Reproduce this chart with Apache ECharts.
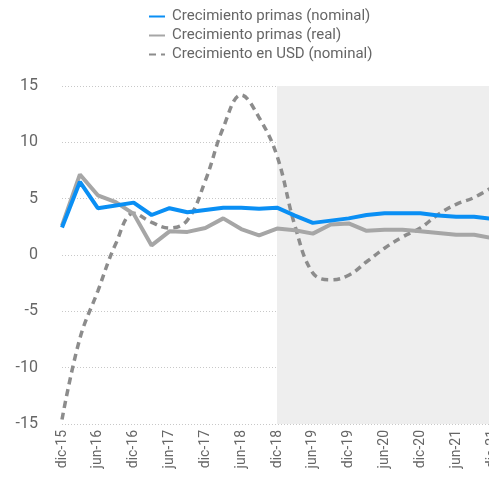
<!DOCTYPE html>
<html><head><meta charset="utf-8">
<script src="https://cdn.jsdelivr.net/npm/echarts@6/dist/echarts.min.js"></script>
<style>html,body{margin:0;padding:0;background:#fff}#c{width:489px;height:477px}</style>
</head><body><div id="c"></div>
<script>
const categories = ["dic-15","mar-16","jun-16","sep-16","dic-16","mar-17","jun-17","sep-17","dic-17","mar-18","jun-18","sep-18","dic-18","mar-19","jun-19","sep-19","dic-19","mar-20","jun-20","sep-20","dic-20","mar-21","jun-21","sep-21","dic-21"];
const nominal = [2.45,6.5,4.15,4.4,4.65,3.55,4.15,3.8,4.0,4.2,4.2,4.1,4.2,3.5,2.85,3.05,3.25,3.55,3.7,3.7,3.7,3.5,3.4,3.4,3.2];
const real = [2.6,7.15,5.3,4.7,3.65,0.85,2.1,2.05,2.4,3.25,2.3,1.75,2.35,2.2,1.9,2.7,2.8,2.15,2.25,2.25,2.1,1.95,1.8,1.8,1.5];
const usd = [-14.6,-7.4,-3.2,1.0,3.7,2.9,2.4,3.1,6.6,11.3,14.2,12.2,8.8,2.6,-1.6,-2.2,-1.8,-0.6,0.6,1.6,2.4,3.6,4.5,5.1,6.0];
const shadeFrom = "dic-18";
const shadeTo = "dic-21";
const yTicks = {min:-15, max:15, interval:5};

const chart = echarts.init(document.getElementById('c'));
chart.setOption({
  animation:false,
  textStyle:{fontFamily:'Roboto'},
  legend:{
    orient:'vertical', left:143, top:4, itemGap:4, itemWidth:16, itemHeight:15,
    itemStyle:{opacity:0},
    textStyle:{fontSize:15,color:'#666',fontFamily:'Roboto',padding:[0,0,0,2]},
    data:[
      {name:'Crecimiento primas (nominal)'},
      {name:'Crecimiento primas (real)'},
      {name:'Crecimiento en USD (nominal)'}
    ]
  },
  grid:{left:62,width:430,top:86,bottom:53,outerBoundsMode:'none',containLabel:false},
  xAxis:{
    type:'category', data:categories, boundaryGap:false,
    axisLine:{show:false}, axisTick:{show:false},
    axisLabel:{interval:1, rotate:90, fontSize:14, color:'#666', margin:6}
  },
  yAxis:{
    type:'value', min:yTicks.min, max:yTicks.max, interval:yTicks.interval,
    axisLine:{show:false}, axisTick:{show:false},
    axisLabel:{fontSize:16, color:'#666', margin:24},
    splitLine:{lineStyle:{color:'#c8c8c8', type:[1,2], width:1}}
  },
  series:[
    {name:'Crecimiento en USD (nominal)', type:'line', data:usd, smooth:0.4, symbol:'none', z:2,
     lineStyle:{color:'#8c8c8c', width:3.5, type:[7,5]}, itemStyle:{color:'#8c8c8c'},
     markArea:{silent:true, itemStyle:{color:'#eeeeee'}, data:[[{xAxis:shadeFrom},{xAxis:shadeTo}]]}},
    {name:'Crecimiento primas (real)', type:'line', data:real, symbol:'none', z:3,
     lineStyle:{color:'#a6a6a6', width:4}, itemStyle:{color:'#a6a6a6'}},
    {name:'Crecimiento primas (nominal)', type:'line', data:nominal, symbol:'none', z:4,
     lineStyle:{color:'#0a8ff4', width:4}, itemStyle:{color:'#0a8ff4'}}
  ]
});
</script></body></html>
